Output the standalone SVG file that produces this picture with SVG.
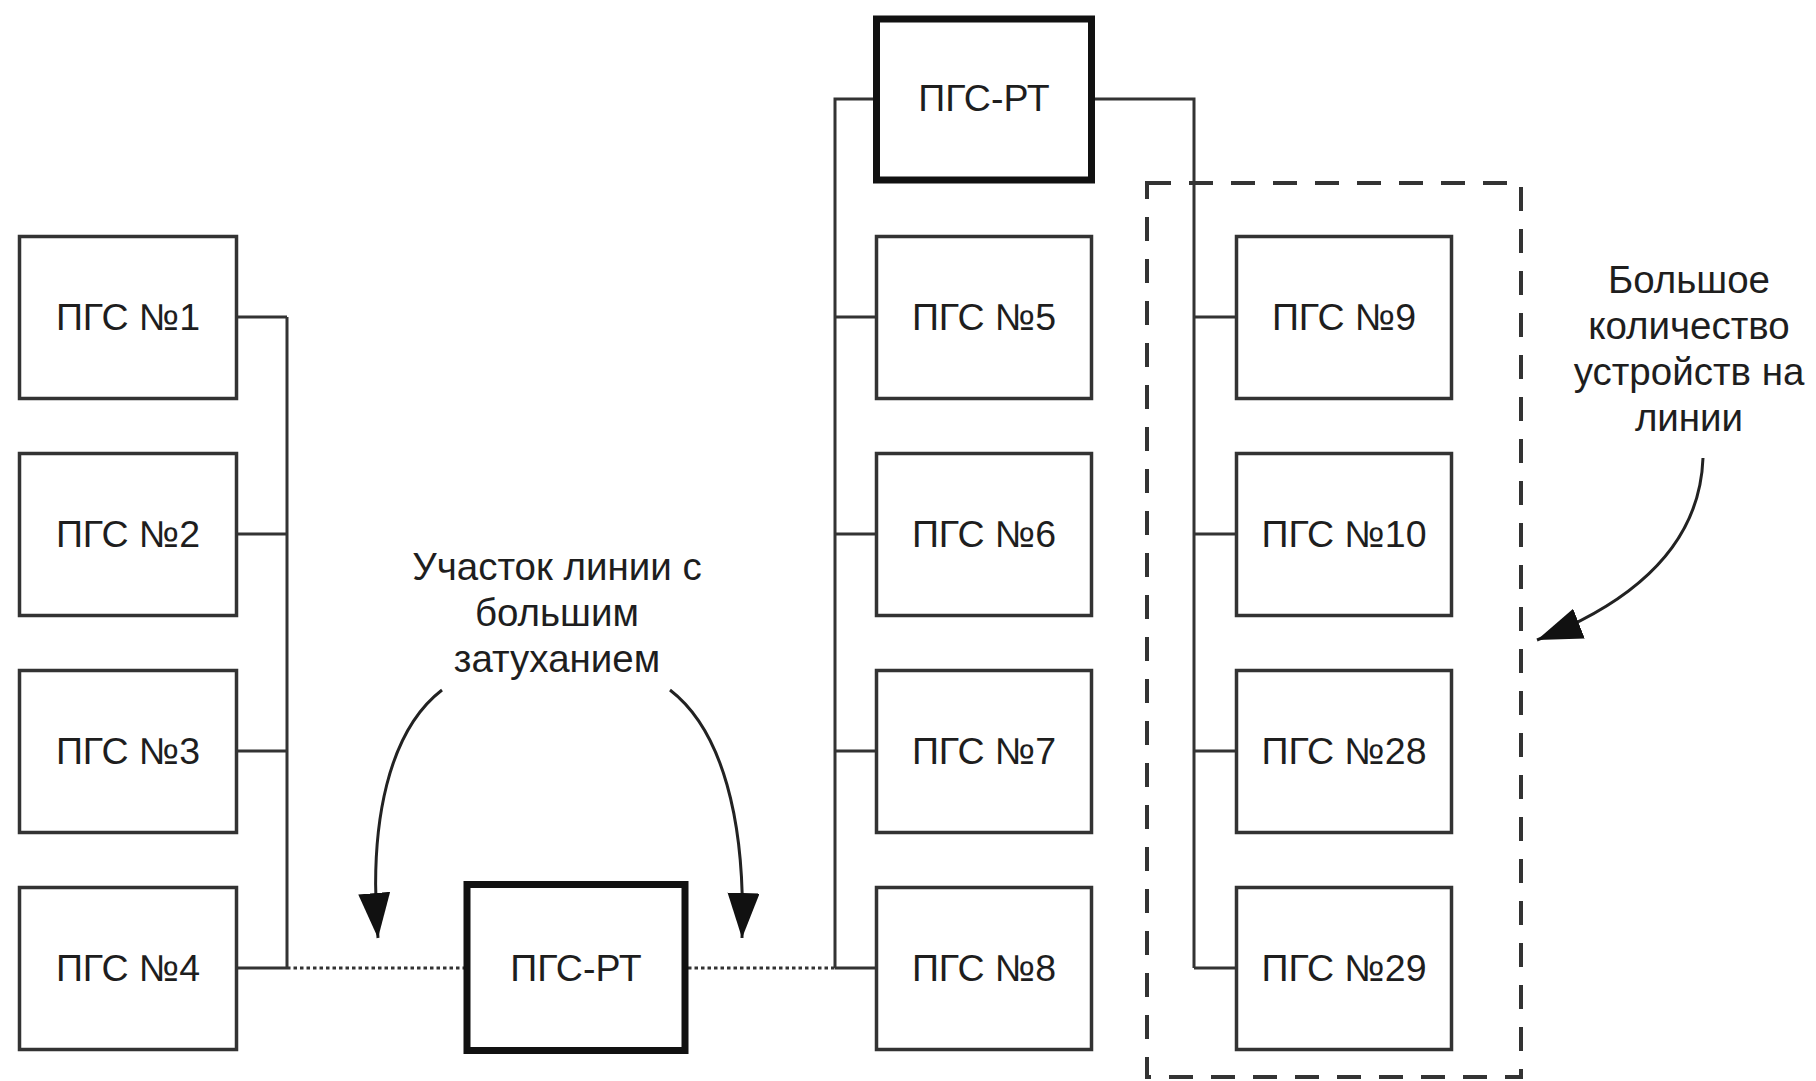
<svg xmlns="http://www.w3.org/2000/svg" width="1816" height="1081" viewBox="0 0 1816 1081">
<style>
.box{fill:#fff;stroke:#333;stroke-width:3.5}
.rt{fill:#fff;stroke:#111;stroke-width:7}
.lbl{font-family:"Liberation Sans",Arial,sans-serif;font-size:37.5px;fill:#1e1e1e;text-anchor:middle}
.note{font-family:"Liberation Sans",Arial,sans-serif;font-size:38.5px;fill:#1e1e1e;text-anchor:middle}
.ln{fill:none;stroke:#333;stroke-width:3}
.dot{fill:none;stroke:#333;stroke-width:3;stroke-dasharray:3.5 3}
.dash{fill:none;stroke:#333;stroke-width:4;stroke-dasharray:24 18}
.arr{fill:none;stroke:#222;stroke-width:3;marker-end:url(#ah)}
</style>
<defs>
<marker id="ah" markerUnits="userSpaceOnUse" markerWidth="48" markerHeight="34" refX="45" refY="16" orient="auto">
<path d="M0,0 L45,16 L0,32 Z" fill="#111"/>
</marker>
</defs>
<rect width="1816" height="1081" fill="#fff"/>
<g id="connectors">
<path class="ln" d="M238,317 H287 M238,534 H287 M238,751 H287 M238,968 H287 M287,317 V968"/>
<path class="dot" d="M287,968 H464 M688,968 H835"/>
<path class="ln" d="M873,99 H835 V968 M835,317 H875 M835,534 H875 M835,751 H875 M835,968 H875"/>
<path class="ln" d="M1095,99 H1194 V968 M1194,317 H1235 M1194,534 H1235 M1194,751 H1235 M1194,968 H1235"/>
<path class="arr" d="M442,690 C390,730 368,820 378,938"/>
<path class="arr" d="M670,690 C722,730 746,820 742,938"/>
<path class="arr" d="M1703,458 C1700,540 1640,600 1537,640"/>
</g>
<rect id="group-many" class="dash" x="1147" y="183" width="374" height="894"/>
<g id="n1"><rect class="box" x="19.5" y="236.5" width="217" height="162"/><text class="lbl" x="128" y="330">ПГС №1</text></g>
<g id="n2"><rect class="box" x="19.5" y="453.5" width="217" height="162"/><text class="lbl" x="128" y="547">ПГС №2</text></g>
<g id="n3"><rect class="box" x="19.5" y="670.5" width="217" height="162"/><text class="lbl" x="128" y="764">ПГС №3</text></g>
<g id="n4"><rect class="box" x="19.5" y="887.5" width="217" height="162"/><text class="lbl" x="128" y="981">ПГС №4</text></g>
<g id="rt-bottom"><rect class="rt" x="467" y="884.5" width="218" height="166"/><text class="lbl" x="576" y="981">ПГС-РТ</text></g>
<g id="rt-top"><rect class="rt" x="876.5" y="19" width="215" height="161"/><text class="lbl" x="984" y="111">ПГС-РТ</text></g>
<g id="n5"><rect class="box" x="876.5" y="236.5" width="215" height="162"/><text class="lbl" x="984" y="330">ПГС №5</text></g>
<g id="n6"><rect class="box" x="876.5" y="453.5" width="215" height="162"/><text class="lbl" x="984" y="547">ПГС №6</text></g>
<g id="n7"><rect class="box" x="876.5" y="670.5" width="215" height="162"/><text class="lbl" x="984" y="764">ПГС №7</text></g>
<g id="n8"><rect class="box" x="876.5" y="887.5" width="215" height="162"/><text class="lbl" x="984" y="981">ПГС №8</text></g>
<g id="n9"><rect class="box" x="1236.5" y="236.5" width="215" height="162"/><text class="lbl" x="1344" y="330">ПГС №9</text></g>
<g id="n10"><rect class="box" x="1236.5" y="453.5" width="215" height="162"/><text class="lbl" x="1344" y="547">ПГС №10</text></g>
<g id="n28"><rect class="box" x="1236.5" y="670.5" width="215" height="162"/><text class="lbl" x="1344" y="764">ПГС №28</text></g>
<g id="n29"><rect class="box" x="1236.5" y="887.5" width="215" height="162"/><text class="lbl" x="1344" y="981">ПГС №29</text></g>
<g id="note-attenuation"><text class="note" x="557" y="580">Участок линии с</text><text class="note" x="557" y="626">большим</text><text class="note" x="557" y="672">затуханием</text></g>
<g id="note-devices"><text class="note" x="1689" y="293">Большое</text><text class="note" x="1689" y="339">количество</text><text class="note" x="1689" y="385">устройств на</text><text class="note" x="1689" y="431">линии</text></g>
</svg>
